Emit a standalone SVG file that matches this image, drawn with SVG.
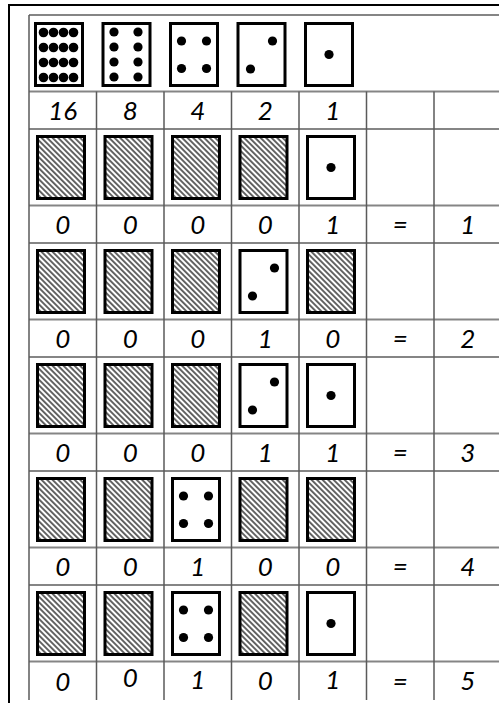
<svg xmlns="http://www.w3.org/2000/svg" xmlns:xlink="http://www.w3.org/1999/xlink" width="499" height="706" viewBox="0 0 499 706">
<style>
.frame{fill:none;stroke:#000;stroke-width:2}
.hl{stroke:#858585;stroke-width:2}
.vl{stroke:#5a5a5a;stroke-width:1.5}
.card{fill:#fff;stroke:#000;stroke-width:3}
.back{fill:url(#hatch);stroke:#000;stroke-width:3}
.dot{fill:#000}
.num{font-family:Lato,"Liberation Sans",sans-serif;font-style:italic;font-size:26px;fill:#000;text-anchor:middle}
</style>
<defs>
<pattern id="hatch" patternUnits="userSpaceOnUse" width="3.9" height="3.9" patternTransform="rotate(-45)">
<rect width="3.9" height="3.9" fill="#fff"/>
<line x1="1.95" y1="-1" x2="1.95" y2="4.9" stroke="#000" stroke-width="1.2"/>
</pattern>
<g id="cb"><rect x="1.5" y="1.5" width="47" height="62" fill="#fff"/><rect class="back" x="1.5" y="1.5" width="47" height="62"/></g>
<g id="c1"><rect class="card" x="1.5" y="1.5" width="47" height="62"/><circle class="dot" cx="25" cy="32.5" r="4.6"/></g>
<g id="c2"><rect class="card" x="1.5" y="1.5" width="47" height="62"/><circle class="dot" cx="36" cy="19" r="4.6"/><circle class="dot" cx="14" cy="47" r="4.6"/></g>
<g id="c4"><rect class="card" x="1.5" y="1.5" width="47" height="62"/><circle class="dot" cx="12.5" cy="19" r="4.6"/><circle class="dot" cx="37.5" cy="19" r="4.6"/><circle class="dot" cx="12.5" cy="46.5" r="4.6"/><circle class="dot" cx="37.5" cy="46.5" r="4.6"/></g>
<g id="c8"><rect class="card" x="1.5" y="1.5" width="47" height="62"/>
<circle class="dot" cx="12.5" cy="10" r="4.6"/><circle class="dot" cx="36.5" cy="10" r="4.6"/>
<circle class="dot" cx="12.5" cy="25" r="4.6"/><circle class="dot" cx="36.5" cy="25" r="4.6"/>
<circle class="dot" cx="12.5" cy="40" r="4.6"/><circle class="dot" cx="36.5" cy="40" r="4.6"/>
<circle class="dot" cx="12.5" cy="55" r="4.6"/><circle class="dot" cx="36.5" cy="55" r="4.6"/></g>
<g id="c16"><rect class="card" x="1.5" y="1.5" width="47" height="62"/>
<circle class="dot" cx="9.5" cy="10.5" r="4.8"/><circle class="dot" cx="19.5" cy="10.5" r="4.8"/><circle class="dot" cx="29.5" cy="10.5" r="4.8"/><circle class="dot" cx="39.5" cy="10.5" r="4.8"/>
<circle class="dot" cx="9.5" cy="25.5" r="4.8"/><circle class="dot" cx="19.5" cy="25.5" r="4.8"/><circle class="dot" cx="29.5" cy="25.5" r="4.8"/><circle class="dot" cx="39.5" cy="25.5" r="4.8"/>
<circle class="dot" cx="9.5" cy="40.5" r="4.8"/><circle class="dot" cx="19.5" cy="40.5" r="4.8"/><circle class="dot" cx="29.5" cy="40.5" r="4.8"/><circle class="dot" cx="39.5" cy="40.5" r="4.8"/>
<circle class="dot" cx="9.5" cy="55.5" r="4.8"/><circle class="dot" cx="19.5" cy="55.5" r="4.8"/><circle class="dot" cx="29.5" cy="55.5" r="4.8"/><circle class="dot" cx="39.5" cy="55.5" r="4.8"/></g>
</defs>
<rect width="499" height="706" fill="#fff"/>
<path class="frame" d="M9,703 V5 H499"/>
<g id="grid">
<line class="hl" x1="29" y1="15" x2="499" y2="15"/>
<line class="hl" x1="29" y1="91.5" x2="499" y2="91.5"/>
<line class="hl" x1="29" y1="129" x2="499" y2="129"/>
<line class="hl" x1="29" y1="205.5" x2="499" y2="205.5"/>
<line class="hl" x1="29" y1="243" x2="499" y2="243"/>
<line class="hl" x1="29" y1="319.5" x2="499" y2="319.5"/>
<line class="hl" x1="29" y1="357" x2="499" y2="357"/>
<line class="hl" x1="29" y1="433.5" x2="499" y2="433.5"/>
<line class="hl" x1="29" y1="471" x2="499" y2="471"/>
<line class="hl" x1="29" y1="547.5" x2="499" y2="547.5"/>
<line class="hl" x1="29" y1="585" x2="499" y2="585"/>
<line class="hl" x1="29" y1="661.5" x2="499" y2="661.5"/>
<line class="vl" x1="29" y1="15" x2="29" y2="700"/>
<line class="vl" x1="96.5" y1="91.5" x2="96.5" y2="700"/>
<line class="vl" x1="164" y1="91.5" x2="164" y2="700"/>
<line class="vl" x1="231.5" y1="91.5" x2="231.5" y2="700"/>
<line class="vl" x1="299" y1="91.5" x2="299" y2="700"/>
<line class="vl" x1="366.5" y1="91.5" x2="366.5" y2="700"/>
<line class="vl" x1="434" y1="91.5" x2="434" y2="700"/>
</g>
<g id="header-cards">
<use xlink:href="#c16" x="34" y="22"/>
<use xlink:href="#c8" x="101.5" y="22"/>
<use xlink:href="#c4" x="169" y="22"/>
<use xlink:href="#c2" x="236.5" y="22"/>
<use xlink:href="#c1" x="304" y="22"/>
</g>
<g id="header-values" class="num">
<text x="62.75" y="120">16</text><text x="130.25" y="120">8</text><text x="197.75" y="120">4</text><text x="265.25" y="120">2</text><text x="332.75" y="120">1</text>
</g>
<g id="row1">
<use xlink:href="#cb" x="36" y="135"/><use xlink:href="#cb" x="103.5" y="135"/><use xlink:href="#cb" x="171" y="135"/><use xlink:href="#cb" x="238.5" y="135"/><use xlink:href="#c1" x="306" y="135"/>
<g class="num"><text x="62.75" y="234">0</text><text x="130.25" y="234">0</text><text x="197.75" y="234">0</text><text x="265.25" y="234">0</text><text x="332.75" y="234">1</text><text x="400.25" y="234">=</text><text x="467.75" y="234">1</text></g>
</g>
<g id="row2">
<use xlink:href="#cb" x="36" y="249"/><use xlink:href="#cb" x="103.5" y="249"/><use xlink:href="#cb" x="171" y="249"/><use xlink:href="#c2" x="238.5" y="249"/><use xlink:href="#cb" x="306" y="249"/>
<g class="num"><text x="62.75" y="348">0</text><text x="130.25" y="348">0</text><text x="197.75" y="348">0</text><text x="265.25" y="348">1</text><text x="332.75" y="348">0</text><text x="400.25" y="348">=</text><text x="467.75" y="348">2</text></g>
</g>
<g id="row3">
<use xlink:href="#cb" x="36" y="363"/><use xlink:href="#cb" x="103.5" y="363"/><use xlink:href="#cb" x="171" y="363"/><use xlink:href="#c2" x="238.5" y="363"/><use xlink:href="#c1" x="306" y="363"/>
<g class="num"><text x="62.75" y="462">0</text><text x="130.25" y="462">0</text><text x="197.75" y="462">0</text><text x="265.25" y="462">1</text><text x="332.75" y="462">1</text><text x="400.25" y="462">=</text><text x="467.75" y="462">3</text></g>
</g>
<g id="row4">
<use xlink:href="#cb" x="36" y="477"/><use xlink:href="#cb" x="103.5" y="477"/><use xlink:href="#c4" x="171" y="477"/><use xlink:href="#cb" x="238.5" y="477"/><use xlink:href="#cb" x="306" y="477"/>
<g class="num"><text x="62.75" y="576">0</text><text x="130.25" y="576">0</text><text x="197.75" y="576">1</text><text x="265.25" y="576">0</text><text x="332.75" y="576">0</text><text x="400.25" y="576">=</text><text x="467.75" y="576">4</text></g>
</g>
<g id="row5">
<use xlink:href="#cb" x="36" y="591"/><use xlink:href="#cb" x="103.5" y="591"/><use xlink:href="#c4" x="171" y="591"/><use xlink:href="#cb" x="238.5" y="591"/><use xlink:href="#c1" x="306" y="591"/>
<g class="num"><text x="62.75" y="691">0</text><text x="130.25" y="687">0</text><text x="197.75" y="689">1</text><text x="265.25" y="690">0</text><text x="332.75" y="689">1</text><text x="400.25" y="691">=</text><text x="467.75" y="690">5</text></g>
</g>
</svg>
